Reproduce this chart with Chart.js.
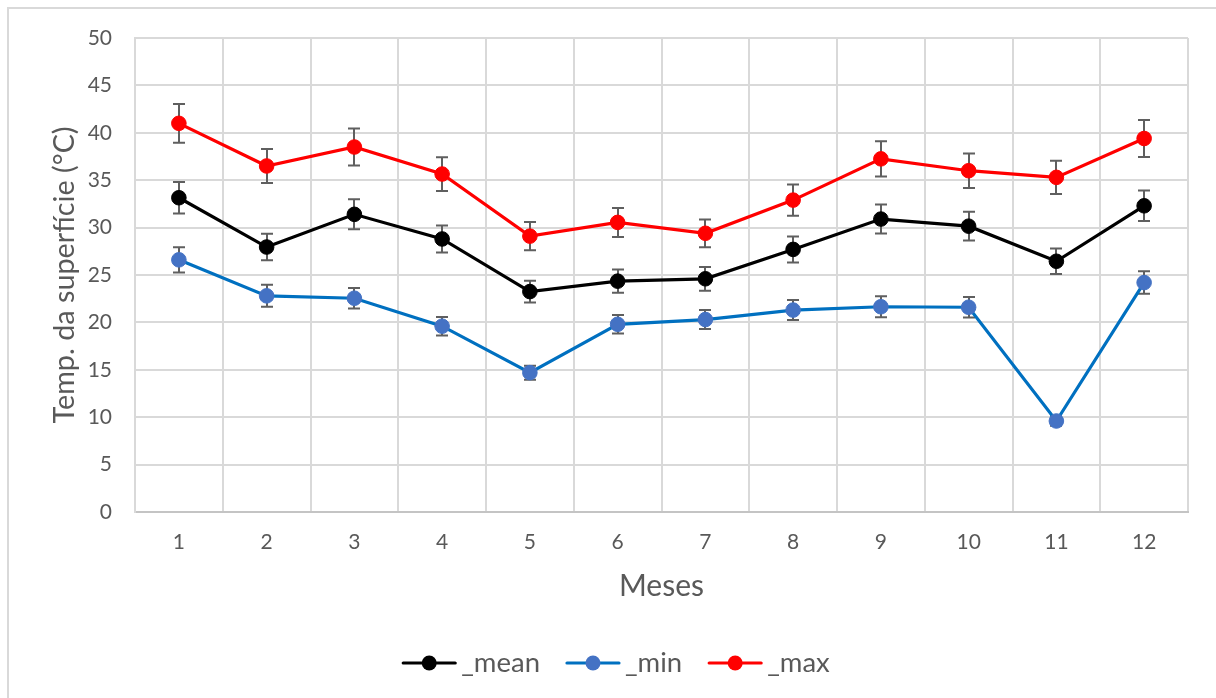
<!DOCTYPE html>
<html>
<head>
<meta charset="utf-8">
<script src="https://cdn.jsdelivr.net/npm/chart.js@4.4.1/dist/chart.umd.min.js"></script>
<style>
  html, body { margin: 0; padding: 0; background: #ffffff; }
  #wrap { position: relative; width: 1216px; height: 698px; overflow: hidden; }
  #frame { position: absolute; left: 7px; top: 7px; width: 1400px; height: 900px;
           border-top: 2px solid #d9d9d9; border-left: 2px solid #d9d9d9; }
  canvas { position: absolute; left: 0; top: 0; }
</style>
</head>
<body>
<div id="wrap">
  <div id="frame"></div>
  <canvas id="chart" width="1216" height="698"></canvas>
</div>
<script>
// Monthly surface temperature (°C): mean, minimum and maximum, with error margins
const months = ['1', '2', '3', '4', '5', '6', '7', '8', '9', '10', '11', '12'];

const meanTemp = [33.15, 27.95, 31.4, 28.8, 23.25, 24.35, 24.6, 27.7, 30.9, 30.15, 26.45, 32.3];
const meanErr  = [1.65, 1.39, 1.58, 1.42, 1.14, 1.23, 1.25, 1.37, 1.53, 1.51, 1.34, 1.61];

const minTemp = [26.6, 22.8, 22.55, 19.6, 14.7, 19.8, 20.3, 21.3, 21.65, 21.6, 9.6, 24.2];
const minErr  = [1.34, 1.16, 1.09, 0.98, 0.74, 0.98, 1.0, 1.05, 1.11, 1.09, 0.5, 1.19];

const maxTemp = [41.0, 36.5, 38.5, 35.65, 29.1, 30.55, 29.4, 32.9, 37.25, 36.0, 35.3, 39.4];
const maxErr  = [2.05, 1.8, 1.95, 1.78, 1.48, 1.53, 1.46, 1.65, 1.85, 1.81, 1.76, 1.95];

const yTickValues = [0, 5, 10, 15, 20, 25, 30, 35, 40, 45, 50];

const FONT = 'Lato, "Open Sans", sans-serif';
const TEXT = '#595959';

// Vertical error bars with caps, drawn beneath lines and markers
const errorBars = {
  id: 'errorBars',
  beforeDatasetsDraw(chart, args, opts) {
    const { ctx, scales: { x, y } } = chart;
    ctx.save();
    ctx.strokeStyle = opts.color;
    ctx.lineWidth = opts.width;
    chart.data.datasets.forEach((ds) => {
      ds.errors.forEach((e, j) => {
        const v = ds.data[j];
        const px = Math.round(x.getPixelForValue(j));
        const top = y.getPixelForValue(v + e);
        const bot = y.getPixelForValue(v - e);
        ctx.beginPath();
        ctx.moveTo(px, top); ctx.lineTo(px, bot);
        ctx.moveTo(px - opts.cap, top); ctx.lineTo(px + opts.cap, top);
        ctx.moveTo(px - opts.cap, bot); ctx.lineTo(px + opts.cap, bot);
        ctx.stroke();
      });
    });
    ctx.restore();
  }
};

// Legend with a line-and-marker sample in front of each series name
const lineLegend = {
  id: 'lineLegend',
  afterDraw(chart, args, opts) {
    const { ctx } = chart;
    ctx.save();
    ctx.font = `${opts.fontSize}px ${FONT}`;
    const items = chart.data.datasets.map((ds) => ({
      ds, w: opts.sample + opts.textGap + ctx.measureText(ds.label).width
    }));
    const total = items.reduce((s, it) => s + it.w, 0) + opts.itemGap * (items.length - 1);
    let cx = opts.centerX - total / 2;
    const cy = opts.centerY;
    items.forEach((it) => {
      const ds = it.ds;
      ctx.strokeStyle = ds.borderColor;
      ctx.lineWidth = ds.borderWidth;
      ctx.lineCap = 'round';
      ctx.beginPath();
      ctx.moveTo(cx + 1, cy); ctx.lineTo(cx + opts.sample - 1, cy);
      ctx.stroke();
      ctx.fillStyle = ds.pointBackgroundColor;
      ctx.beginPath();
      ctx.arc(cx + opts.sample / 2, cy, opts.markerRadius, 0, Math.PI * 2);
      ctx.fill();
      ctx.fillStyle = TEXT;
      ctx.textBaseline = 'middle';
      ctx.textAlign = 'left';
      ctx.fillText(ds.label, cx + opts.sample + opts.textGap, cy);
      cx += it.w + opts.itemGap;
    });
    ctx.restore();
  }
};

function series(label, data, errors, lineColor, markerColor) {
  return {
    label, data, errors,
    borderColor: lineColor,
    borderWidth: 3.2,
    pointBackgroundColor: markerColor,
    pointBorderColor: markerColor,
    pointBorderWidth: 1,
    pointRadius: 7.3,
    pointHoverRadius: 7.3,
    tension: 0,
    fill: false
  };
}

new Chart(document.getElementById('chart'), {
  type: 'line',
  data: {
    labels: months,
    datasets: [
      series('_mean', meanTemp, meanErr, '#000000', '#000000'),
      series('_min', minTemp, minErr, '#0070C0', '#4472C4'),
      series('_max', maxTemp, maxErr, '#FF0000', '#FF0000')
    ]
  },
  options: {
    responsive: false,
    animation: false,
    devicePixelRatio: 1,
    layout: { padding: { left: 0, top: 38, right: 28, bottom: 88 } },
    plugins: {
      legend: { display: false },
      tooltip: { enabled: false },
      errorBars: { color: '#5f5f5f', width: 2, cap: 6 },
      lineLegend: { centerX: 616, centerY: 663, fontSize: 27.5, sample: 54, textGap: 5,
                    itemGap: 26, markerRadius: 7.5 }
    },
    scales: {
      x: {
        type: 'category',
        offset: true,
        grid: { offset: true, color: '#d9d9d9', lineWidth: 2, drawTicks: false },
        border: { color: '#c4c4c4', width: 2 },
        ticks: { color: TEXT, padding: 18, font: { family: FONT, size: 21 } },
        title: { display: true, text: 'Meses', color: TEXT,
                 font: { family: FONT, size: 30 }, padding: { top: 0, bottom: 6 } },
        afterFit(scale) { scale.height = 98; }
      },
      y: {
        min: 0, max: 50,
        afterBuildTicks(scale) { scale.ticks = yTickValues.map((v) => ({ value: v })); },
        grid: { color: '#d9d9d9', lineWidth: 2, drawTicks: false },
        border: { color: '#d9d9d9', width: 2 },
        ticks: { color: TEXT, padding: 23, font: { family: FONT, size: 21 } },
        title: { display: true, text: 'Temp. da superfície (°C)', color: TEXT,
                 font: { family: FONT, size: 28.8 }, padding: { top: 47, bottom: 0 } },
        afterFit(scale) { scale.width = 135; }
      }
    }
  },
  plugins: [errorBars, lineLegend]
});
</script>
</body>
</html>
